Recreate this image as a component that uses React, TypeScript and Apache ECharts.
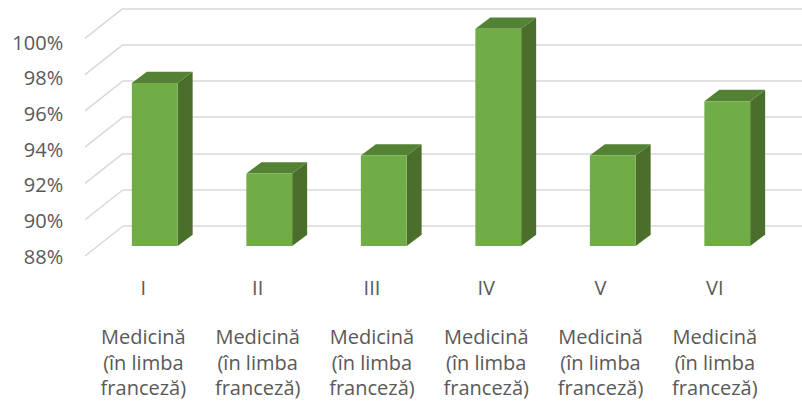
import React, { useEffect, useRef } from "react";
import * as echarts from "echarts";

const categories = ["I", "II", "III", "IV", "V", "VI"];
const groupLabels = [
  "Medicină\n(în limba\nfranceză)",
  "Medicină\n(în limba\nfranceză)",
  "Medicină\n(în limba\nfranceză)",
  "Medicină\n(în limba\nfranceză)",
  "Medicină\n(în limba\nfranceză)",
  "Medicină\n(în limba\nfranceză)",
];
const values = [97, 92, 93, 100, 93, 96];
const yTicks = [88, 90, 92, 94, 96, 98, 100];
const Y_MIN = 88;
const Y_MAX = 100;
const Y_STEP = 2;

const FONT = "'Open Sans', 'Liberation Sans', sans-serif";
const TEXT = "#595959";
const GRID_LINE = "#d9d9d9";

export default function App() {
  const ref = useRef<HTMLDivElement>(null);

  useEffect(() => {
    document.body.style.margin = "0";
    const chart = echarts.init(ref.current!, undefined, { renderer: "svg" });

    const depthDx = 15;
    const depthDy = -11.3;
    const wallDx = 38;
    const wallDy = -30;

    const labelStyle = {
      color: TEXT,
      fontFamily: FONT,
      fontSize: 20,
      lineHeight: 25.5,
    };

    chart.setOption({
      animation: false,
      backgroundColor: "#ffffff",
      grid: [
        { left: 97.5, right: 17.5, top: 28.7, bottom: 163 },
        { left: 86.2, right: 30, top: 42, bottom: 153 },
        { left: 123, right: 0, top: 8.3, bottom: 183 },
      ],
      xAxis: [
        { gridIndex: 0, type: "category", data: categories, show: false },
        {
          gridIndex: 1,
          type: "category",
          data: categories,
          position: "bottom",
          axisLine: { show: false },
          axisTick: { show: false },
          axisLabel: { ...labelStyle, margin: 19, interval: 0 },
        },
        {
          gridIndex: 1,
          type: "category",
          data: groupLabels,
          position: "bottom",
          axisLine: { show: false },
          axisTick: { show: false },
          axisLabel: { ...labelStyle, margin: 68, interval: 0 },
        },
        { gridIndex: 2, type: "value", min: 0, max: 1, show: false },
      ],
      yAxis: [
        { gridIndex: 0, type: "value", min: Y_MIN, max: Y_MAX, interval: Y_STEP, show: false },
        {
          gridIndex: 1,
          type: "value",
          min: Y_MIN,
          max: Y_MAX,
          interval: Y_STEP,
          axisLine: { show: false },
          axisTick: { show: false },
          splitLine: { show: false },
          axisLabel: { ...labelStyle, formatter: "{value}%", margin: 23 },
        },
        {
          gridIndex: 2,
          type: "value",
          min: Y_MIN,
          max: Y_MAX,
          interval: Y_STEP,
          axisLine: { show: false },
          axisTick: { show: false },
          axisLabel: { show: false },
          splitLine: { show: true, lineStyle: { color: GRID_LINE, width: 1.5 } },
        },
      ],
      series: [
        {
          type: "custom",
          xAxisIndex: 3,
          yAxisIndex: 2,
          z: 1,
          silent: true,
          data: yTicks.map((v) => [0, v]),
          renderItem: (_params: any, api: any) => {
            const p = api.coord([0, api.value(1)]);
            return {
              type: "line",
              shape: { x1: p[0] - wallDx, y1: p[1] - wallDy, x2: p[0], y2: p[1] },
              style: { stroke: GRID_LINE, lineWidth: 1.5 },
            };
          },
        },
        {
          type: "custom",
          xAxisIndex: 0,
          yAxisIndex: 0,
          z: 5,
          data: values.map((v, i) => [i, v]),
          renderItem: (_params: any, api: any) => {
            const idx = api.value(0);
            const top = api.coord([idx, api.value(1)]);
            const base = api.coord([idx, Y_MIN]);
            const w = api.size([1, 0])[0] * 0.4;
            const x0 = top[0] - w / 2;
            const x1 = top[0] + w / 2;
            const yt = top[1];
            const yb = base[1];
            return {
              type: "group",
              children: [
                {
                  type: "polygon",
                  shape: {
                    points: [
                      [x1, yt],
                      [x1 + depthDx, yt + depthDy],
                      [x1 + depthDx, yb + depthDy],
                      [x1, yb],
                    ],
                  },
                  style: { fill: "#4a6f2a" },
                },
                {
                  type: "polygon",
                  shape: {
                    points: [
                      [x0, yt],
                      [x0 + depthDx, yt + depthDy],
                      [x1 + depthDx, yt + depthDy],
                      [x1, yt],
                    ],
                  },
                  style: { fill: "#548235" },
                },
                {
                  type: "rect",
                  shape: { x: x0, y: yt, width: w, height: yb - yt },
                  style: { fill: "#70ad47" },
                },
              ],
            };
          },
        },
      ],
    });

    return () => chart.dispose();
  }, []);

  return (
    <div
      ref={ref}
      style={{ position: "absolute", left: 0, top: 0, width: 802, height: 409 }}
    />
  );
}
